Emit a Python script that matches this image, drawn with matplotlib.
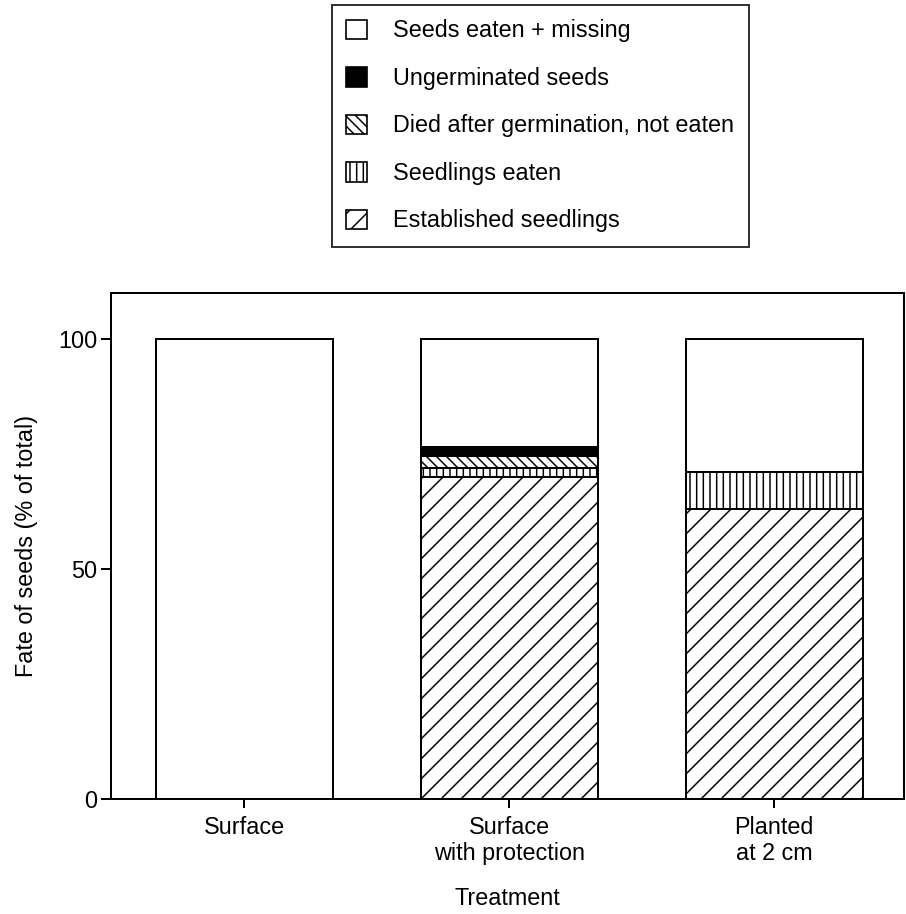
import matplotlib
matplotlib.use("Agg")
import matplotlib.pyplot as plt
from matplotlib.patches import Patch
import numpy as np

plt.rcParams['font.family'] = ['Liberation Sans', 'DejaVu Sans']
plt.rcParams['hatch.linewidth'] = 0.9

treatments = ["Surface", "Surface\nwith protection", "Planted\nat 2 cm"]

# stacked from the bottom up, % of total
established = [0, 70, 63]
seedlings_eaten = [0, 2, 8]
died_not_eaten = [0, 2.5, 0]
ungerminated = [0, 2, 0]
eaten_missing = [100, 23.5, 29]

series = [
    ("Established seedlings", established, "white", "//"),
    ("Seedlings eaten", seedlings_eaten, "white", "|||"),
    ("Died after germination, not eaten", died_not_eaten, "white", "\\\\\\\\"),
    ("Ungerminated seeds", ungerminated, "black", None),
    ("Seeds eaten + missing", eaten_missing, "white", None),
]

fs = 14

fig = plt.figure(figsize=(906 / 120, 914 / 120), dpi=120)
ax = fig.add_axes([111 / 906, 1 - 799 / 914, (904 - 111) / 906, (799 - 293) / 914])

x = np.arange(len(treatments))
bottom = np.zeros(len(treatments))
for label, vals, fc, hatch in series:
    vals = np.array(vals, dtype=float)
    ax.bar(x, vals, width=0.668, bottom=bottom, color=fc, edgecolor="black",
           linewidth=1.2, hatch=hatch)
    bottom += vals

ax.set_xlim(-0.502, 2.49)
ax.set_ylim(0, 110)
ax.set_xticks(x)
ax.set_xticklabels(treatments, fontsize=fs, linespacing=1.15)
ax.set_yticks([0, 50, 100])
ax.tick_params(axis="y", labelsize=fs, length=6, width=1.2, direction="out", pad=2)
ax.tick_params(axis="x", length=5.5, width=1.2, direction="out", pad=5)
for s in ax.spines.values():
    s.set_linewidth(1.2)

ax.set_xlabel("Treatment", fontsize=fs, labelpad=13)
ax.set_ylabel("Fate of seeds (% of total)", fontsize=fs, labelpad=12)

handles = [Patch(facecolor=fc, edgecolor="black", hatch=h, linewidth=1.0, label=lab)
           for lab, vals, fc, h in reversed(series)]
leg = fig.legend(handles=handles, loc="upper left", bbox_to_anchor=(332 / 906, 1 - 5 / 914),
                 fontsize=fs, frameon=True, fancybox=False, edgecolor="black",
                 handlelength=0.9, handleheight=0.9, handletextpad=1.1,
                 labelspacing=1.05, borderpad=0.62, borderaxespad=0)
leg.get_frame().set_linewidth(1.2)

fig.savefig("out.png", dpi=120)
